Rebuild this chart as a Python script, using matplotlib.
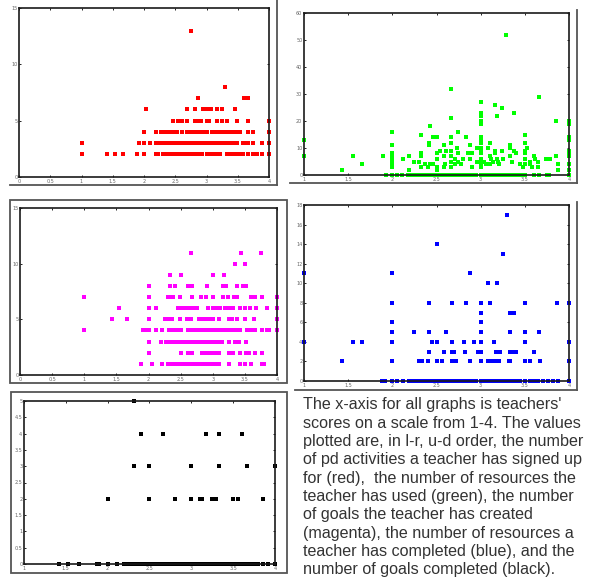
import matplotlib
matplotlib.use('Agg')
import matplotlib.pyplot as plt
from matplotlib.lines import Line2D
from matplotlib.patches import Rectangle

# pd activities signed up (red) - rows of (count, teacher scores)
red_rows = [
    (13, [2.75]),
    (8, [3.29]),
    (7, [2.87, 3.6, 3.66]),
    (6, [2.03, 2.69, 2.81, 2.94, 3.01, 3.07, 3.16, 3.25, 3.46]),
    (5, [2.46, 2.55, 2.61, 2.68, 2.81, 2.87, 2.91, 3.0, 3.04, 3.16, 3.25, 3.33, 3.49, 3.66, 4.0]),
    (4, [2.0, 2.19, 2.27, 2.3, 2.33, 2.36, 2.39, 2.42, 2.45, 2.48, 2.52, 2.6, 2.68, 2.71, 2.74,
         2.78, 2.82, 2.86, 2.9, 2.94, 3.0, 3.09, 3.13, 3.17, 3.21, 3.25, 3.29, 3.33, 3.37, 3.42,
         3.49, 3.53, 3.66, 3.75, 4.0]),
    (3, [1.0, 1.92, 2.0, 2.1, 2.19, 2.22, 2.26, 2.3, 2.34, 2.38, 2.42, 2.46, 2.5, 2.54, 2.58,
         2.62, 2.66, 2.7, 2.74, 2.78, 2.82, 2.86, 2.9, 2.94, 2.98, 3.02, 3.06, 3.1, 3.14, 3.18,
         3.22, 3.26, 3.3, 3.34, 3.38, 3.42, 3.49, 3.58, 3.62, 3.66, 3.75, 3.88, 4.0]),
    (2, [1.0, 1.41, 1.54, 1.66, 1.88, 2.0, 2.19, 2.22, 2.3, 2.33, 2.36, 2.39, 2.42, 2.45, 2.48,
         2.51, 2.54, 2.57, 2.6, 2.63, 2.66, 2.69, 2.72, 2.75, 2.78, 2.81, 2.84, 2.88, 2.92, 3.0,
         3.04, 3.08, 3.12, 3.16, 3.21, 3.32, 3.36, 3.4, 3.44, 3.48, 3.52, 3.58, 3.66, 3.75, 3.8,
         3.88, 4.0]),
]

# resources used (green)
green_rows = [
    (52, [3.29]), (32, [2.66]), (29, [3.66]), (27, [3.0]), (26, [3.16]), (25, [3.24]),
    (23, [3.0, 3.38]), (22, [3.0, 3.19]), (21, [2.66]), (20, [3.0, 3.85, 4.0]), (19, [3.0, 4.0]),
    (18, [2.43]), (16, [2.0, 2.74]), (15, [2.33, 3.5]),
    (14, [2.46, 2.5, 2.66, 2.83, 3.0, 4.0]),
    (13, [1.0, 3.0, 4.0]),
    (12, [2.42, 2.66, 3.0, 3.1, 3.5]),
    (11, [2.0, 2.41, 2.58, 2.88, 3.33]),
    (10, [2.73, 2.96, 3.0, 3.08, 3.33, 3.52]),
    (9, [2.54, 2.61, 2.66, 3.0, 3.16, 3.24, 3.38, 3.5, 4.0]),
    (8, [2.0, 2.33, 2.5, 2.74, 2.86, 2.9, 3.0, 3.16, 3.4, 3.5, 4.0]),
    (7, [1.0, 1.55, 1.89, 2.0, 2.19, 2.33, 2.58, 2.66, 3.1, 3.33, 3.6, 3.85, 4.0]),
    (6, [2.0, 2.12, 2.5, 2.71, 2.8, 2.88, 3.0, 3.12, 3.18, 3.25, 3.5, 3.62, 3.74, 3.78]),
    (5, [2.0, 2.24, 2.3, 2.66, 2.74, 2.96, 3.0, 3.04, 3.14, 3.2, 3.35, 3.56, 3.65]),
    (4, [1.66, 2.0, 2.37, 2.43, 2.46, 2.6, 2.71, 2.78, 3.0, 3.06, 3.1, 3.21, 3.44, 3.5, 3.56,
         3.87, 4.0]),
    (3, [2.0, 2.33, 2.4, 2.5, 2.58, 2.66, 2.9, 3.0, 3.48, 3.58, 3.65]),
    (2, [1.43, 2.19, 2.5, 3.87, 4.0]),
    (0, [1.93, 2.0, 2.05, 2.11, 2.18, 2.22, 2.26, 2.3, 2.34, 2.38, 2.42, 2.46, 2.5, 2.54, 2.58,
         2.62, 2.66, 2.7, 2.74, 2.78, 2.82, 2.86, 2.9, 2.95, 3.0, 3.04, 3.08, 3.12, 3.16, 3.2,
         3.24, 3.28, 3.32, 3.36, 3.4, 3.44, 3.48, 3.5, 3.6, 3.66, 3.75, 3.77, 4.0]),
]

# goals created (magenta)
magenta_rows = [
    (11, [2.66, 3.44, 3.75]),
    (10, [3.34, 3.5]),
    (9, [2.33, 2.5, 3.0, 3.17]),
    (8, [2.0, 2.33, 2.42, 2.62, 2.68, 2.91, 3.16, 3.2, 3.38, 3.47, 3.51]),
    (7, [1.0, 2.0, 2.3, 2.35, 2.38, 2.49, 2.67, 2.82, 2.89, 3.0, 3.16, 3.24, 3.33, 3.37, 3.6,
         3.66, 3.76, 4.0]),
    (6, [1.54, 2.0, 2.11, 2.46, 2.51, 2.55, 2.58, 2.63, 2.65, 2.7, 2.75, 2.92, 3.0, 3.06, 3.12,
         3.19, 3.25, 3.32, 3.43, 3.5, 3.58, 3.67, 3.85, 4.0]),
    (5, [1.43, 1.67, 2.0, 2.25, 2.3, 2.36, 2.49, 2.6, 2.66, 2.78, 2.84, 2.9, 2.95, 3.0, 3.1,
         3.25, 3.3, 3.38, 3.5, 3.64, 4.0]),
    (4, [1.0, 1.92, 1.97, 2.0, 2.11, 2.21, 2.32, 2.36, 2.4, 2.44, 2.48, 2.51, 2.62, 2.66, 2.7,
         2.74, 2.78, 2.82, 2.86, 2.9, 2.94, 2.98, 3.02, 3.06, 3.1, 3.14, 3.18, 3.22, 3.26, 3.3,
         3.34, 3.38, 3.42, 3.53, 3.6, 3.65, 3.76, 3.84, 3.88, 4.0]),
    (3, [2.0, 2.19, 2.28, 2.32, 2.36, 2.4, 2.44, 2.48, 2.52, 2.56, 2.6, 2.63, 2.7, 2.74, 2.78,
         2.82, 2.86, 2.9, 2.94, 2.98, 3.02, 3.06, 3.1, 3.15, 3.25, 3.34, 3.41, 3.51]),
    (2, [2.0, 2.5, 2.62, 2.68, 2.84, 2.89, 2.94, 2.98, 3.02, 3.06, 3.1, 3.25, 3.32, 3.43, 3.51,
         3.56, 3.66, 3.76]),
    (1, [1.89, 2.05, 2.21, 2.3, 2.35, 2.38, 2.42, 2.46, 2.5, 2.54, 2.58, 2.62, 2.66, 2.7, 2.74,
         2.78, 2.82, 2.86, 2.9, 2.94, 2.98, 3.02, 3.06, 3.1, 3.25, 3.43, 3.5, 3.6, 3.76, 3.79]),
]

# resources completed (blue)
blue_rows = [
    (17, [3.3]), (14, [2.5]), (13, [3.25]),
    (11, [1.0, 2.0, 2.88]),
    (10, [3.08, 3.19]),
    (8, [2.0, 2.41, 2.67, 2.83, 3.0, 3.11, 3.5, 3.86, 4.0]),
    (7, [3.0, 3.33, 3.38]),
    (6, [2.0, 3.0]),
    (5, [2.0, 2.25, 2.42, 2.61, 3.0, 3.33, 3.5, 3.66]),
    (4, [1.0, 1.55, 1.66, 2.0, 2.45, 2.5, 2.67, 2.81, 2.93, 3.0, 3.15, 3.5, 4.0]),
    (3, [2.42, 2.59, 2.67, 2.7, 2.82, 2.97, 3.0, 3.17, 3.19, 3.22, 3.33, 3.38, 3.4, 3.6]),
    (2, [1.43, 2.0, 2.3, 2.32, 2.34, 2.4, 2.5, 2.56, 2.67, 2.72, 2.88, 3.0, 3.08, 3.1, 3.12,
         3.15, 3.18, 3.21, 3.32, 3.33, 3.5, 3.56, 3.67, 4.0]),
    (0, [1.88, 1.92, 2.0, 2.05, 2.12, 2.19, 2.22, 2.26, 2.3, 2.34, 2.38, 2.42, 2.46, 2.5, 2.54,
         2.58, 2.62, 2.66, 2.7, 2.74, 2.78, 2.82, 2.86, 2.9, 2.95, 3.0, 3.04, 3.08, 3.12, 3.16,
         3.2, 3.24, 3.28, 3.32, 3.36, 3.4, 3.44, 3.5, 3.56, 3.6, 3.65, 3.7, 3.76, 3.82, 3.88, 4.0]),
]

# goals completed (black)
black_rows = [
    (5, [2.32]),
    (4, [2.4, 2.66, 3.17, 3.33, 3.6]),
    (3, [2.32, 2.5, 3.0, 3.33, 3.66, 4.0]),
    (2, [2.0, 2.5, 2.81, 3.0, 3.1, 3.13, 3.25, 3.3, 3.5, 3.56, 3.86]),
    (0, [1.42, 1.52, 1.66, 1.87, 1.9, 2.0, 2.11, 2.2, 2.24, 2.28, 2.32, 2.36, 2.4, 2.44, 2.48,
         2.52, 2.56, 2.6, 2.64, 2.68, 2.72, 2.76, 2.8, 2.84, 2.88, 2.92, 2.96, 3.0, 3.04, 3.08,
         3.12, 3.16, 3.2, 3.24, 3.28, 3.32, 3.36, 3.4, 3.44, 3.48, 3.52, 3.56, 3.6, 3.64, 3.68,
         3.72, 3.76, 3.8, 3.86, 3.92, 4.0]),
]

caption = ["The x-axis for all graphs is teachers'",
           "scores on a scale from 1-4. The values",
           "plotted are, in l-r, u-d order, the number",
           "of pd activities a teacher has signed up",
           "for (red),  the number of resources the",
           "teacher has used (green), the number",
           "of goals the teacher has created",
           "(magenta), the number of resources a",
           "teacher has completed (blue), and the",
           "number of goals completed (black)."]

W, H = 590, 578
fig = plt.figure(figsize=(W / 100, H / 100), dpi=100)


def rect(l, t, r, b):
    # pixel box -> figure fraction
    return [l / W, 1 - b / H, (r - l) / W, (b - t) / H]


def panel(box, rows, color, xlim, xticks, xlabels, ylim, yticks, ylabels):
    ax = fig.add_axes(rect(*box))
    for yv, xs in rows:
        ax.plot(xs, [yv] * len(xs), linestyle='none', marker='s', markersize=3.0,
                color=color, markeredgewidth=0, clip_on=False)
    ax.set_xlim(*xlim)
    ax.set_ylim(*ylim)
    ax.set_xticks(xticks)
    ax.set_xticklabels(xlabels)
    ax.set_yticks(yticks)
    ax.set_yticklabels(ylabels)
    ax.tick_params(direction='in', length=1.5, width=0.6, labelsize=3.5, labelcolor='#666666',
                   top=True, right=True, pad=1.2)
    for s in ax.spines.values():
        s.set_linewidth(1.2)
        s.set_color('#1a1a1a')
    return ax


half = [0, 0.5, 1, 1.5, 2, 2.5, 3, 3.5, 4]
half_lab = ['0', '0.5', '1', '1.5', '2', '2.5', '3', '3.5', '4']
one_four = [1, 1.5, 2, 2.5, 3, 3.5, 4]
one_four_lab = ['1', '1.5', '2', '2.5', '3', '3.5', '4']

panel((19, 8, 269, 177), red_rows, '#ff0000', (0, 4), half, half_lab,
      (0, 15), [0, 5, 10, 15], ['0', '5', '10', '15'])
panel((304, 13, 569, 175), green_rows, '#00ff00', (1, 4), one_four, one_four_lab,
      (0, 60), list(range(0, 61, 10)), [str(v) for v in range(0, 61, 10)])
panel((20, 208, 277, 375), magenta_rows, '#ff00ff', (0, 4), half, half_lab,
      (0, 15), [0, 5, 10, 15], ['0', '5', '10', '15'])
panel((304, 205, 569, 381), blue_rows, '#0000ff', (1, 4), one_four, one_four_lab,
      (0, 18), list(range(0, 19, 2)), [str(v) for v in range(0, 19, 2)])
yb = [0, 0.5, 1, 1.5, 2, 2.5, 3, 3.5, 4, 4.5, 5]
panel((24, 401, 275, 564), black_rows, '#000000', (1, 4), one_four, one_four_lab,
      (0, 5), yb, ['0', '0.5', '1', '1.5', '2', '2.5', '3', '3.5', '4', '4.5', '5'])


# window frames around the screenshots
def line(x0, y0, x1, y1, c='#555555', lw=1.3):
    fig.add_artist(Line2D([x0 / W, x1 / W], [1 - y0 / H, 1 - y1 / H], color=c, lw=lw))


line(277, 0, 277, 185)
line(10, 185, 277, 185)
line(577, 10, 577, 183)
line(290, 183, 577, 183)
fig.add_artist(Rectangle((10 / W, 1 - 383 / H), 277 / W, 183 / H, fill=False,
                         edgecolor='#555555', lw=1.3))
line(577, 202, 577, 390)
line(295, 390, 577, 390)
fig.add_artist(Rectangle((11 / W, 1 - 573 / H), 276 / W, 181 / H, fill=False,
                         edgecolor='#555555', lw=1.3))

# caption
for i, s in enumerate(caption):
    fig.text(303 / W, 1 - (405 + i * 18.3) / H, s, fontsize=11.6, family='Liberation Sans',
             color='#333333', va='center', ha='left')

fig.savefig('out.png', dpi=100)
